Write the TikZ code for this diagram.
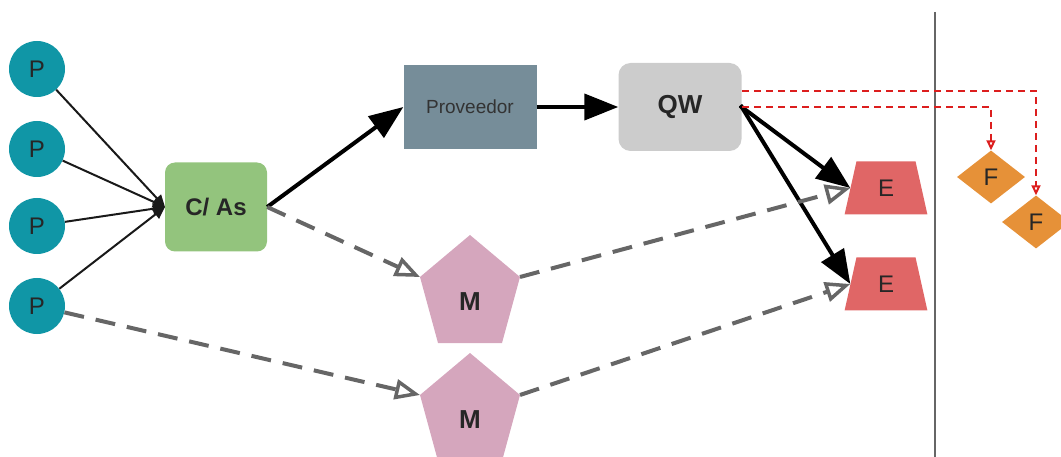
\documentclass[tikz,border=0pt]{standalone}
\usepackage{fontspec}
\setmainfont{Liberation Sans}
\usetikzlibrary{arrows.meta,shapes.geometric}
\definecolor{pteal}{RGB}{16,150,166}
\definecolor{cgreen}{RGB}{147,196,125}
\definecolor{pblue}{RGB}{118,141,153}
\definecolor{qgray}{RGB}{204,204,204}
\definecolor{ered}{RGB}{224,102,102}
\definecolor{forange}{RGB}{230,145,56}
\definecolor{mpink}{RGB}{213,166,189}
\definecolor{dgray}{RGB}{102,102,102}
\definecolor{rdash}{RGB}{220,30,30}
\tikzset{
  pnode/.style={circle,fill=pteal,minimum size=56pt,inner sep=0pt,text=black!85,font=\fontsize{24}{28}\selectfont},
  thin arrow/.style={line width=2pt,black!90,-{Triangle[length=12pt,width=11pt]}},
  thick arrow/.style={line width=4pt,-{Triangle[length=34pt,width=26pt]}},
  dash arrow/.style={line width=4pt,dgray,dash pattern=on 20pt off 12pt,-{Triangle[open,length=25pt,width=20pt,line width=3.5pt]}},
  red arrow/.style={line width=2pt,rdash,dash pattern=on 7pt off 5pt,-{Triangle[open,length=10pt,width=9pt,line width=2pt]}},
  etrap/.style={trapezium,trapezium stretches=true,fill=ered,minimum width=83pt,minimum height=53pt,trapezium left angle=79,trapezium right angle=79,inner sep=0pt,text=black!85,font=\fontsize{24}{28}\selectfont},
  fdiam/.style={diamond,fill=forange,minimum width=68pt,minimum height=53pt,inner sep=0pt,text=black!85,font=\fontsize{24}{28}\selectfont},
  mlabel/.style={text=black!85,font=\bfseries\fontsize{26}{30}\selectfont},
}
\begin{document}
\begin{tikzpicture}[x=1pt,y=-1pt]
\useasboundingbox (0,0) rectangle (1061,457);
% P nodes
\node[pnode] (p1) at (37,69) {P};
\node[pnode] (p2) at (37,149) {P};
\node[pnode] (p3) at (37,226) {P};
\node[pnode] (p4) at (37,306) {P};
% C/As
\node[rounded corners=10pt,fill=cgreen,minimum width=102pt,minimum height=89pt,text=black!85,font=\bfseries\fontsize{24}{28}\selectfont] (cas) at (216,207) {C/ As};
% Proveedor
\node[fill=pblue,minimum width=133pt,minimum height=84pt,font=\fontsize{19}{22}\selectfont,text=black!80] (prov) at (470,107) {Proveedor};
% QW
\node[rounded corners=12pt,fill=qgray,minimum width=123pt,minimum height=88pt,text=black!85,font=\bfseries\fontsize{26}{30}\selectfont] (qw) at (680,107) {QW};
% E nodes
\node[etrap] (e1) at (886,188) {E};
\node[etrap] (e2) at (886,284) {E};
% F nodes
\node[fdiam] (f1) at (991,177) {F};
\node[fdiam] (f2) at (1036,222) {F};
% M pentagons
\fill[mpink] (470,235) coordinate (m1t) -- (420,277) coordinate (m1l) -- (438,343) -- (502,343) -- (520,277) coordinate (m1r) -- cycle;
\node[mlabel] (m1) at (470,302) {M};
\fill[mpink] (470,353) coordinate (m2t) -- (420,395) coordinate (m2l) -- (438,461) -- (502,461) -- (520,395) coordinate (m2r) -- cycle;
\node[mlabel] (m2) at (470,420) {M};
% vertical divider
\coordinate (vtop) at (935,12);
\coordinate (vbot) at (935,457);
\draw[line width=2pt,black!60] (vtop) -- (vbot);
% connectors
\coordinate (casin) at (165,207);
\draw[thin arrow] (p1) -- (casin);
\draw[thin arrow] (p2) -- (casin);
\draw[thin arrow] (p3) -- (casin);
\draw[thin arrow] (p4) -- (casin);
\draw[thick arrow] (cas.east) -- (prov.west);
\draw[thick arrow] (prov.east) -- (qw.west);
\draw[thick arrow,shorten <=-2pt] (qw.east) -- (e1.west);
\draw[thick arrow,shorten <=-2pt] (qw.east) -- (e2.west);
\draw[dash arrow] (cas.east) -- (m1l);
\draw[dash arrow] (p4) -- (m2l);
\draw[dash arrow] (m1r) -- (e1.west);
\draw[dash arrow] (m2r) -- (e2.west);
\coordinate (qwr1) at (742,107);
\coordinate (qwr2) at (742,91);
\draw[red arrow] (qwr1) -| (f1.north);
\draw[red arrow] (qwr2) -| (f2.north);
\end{tikzpicture}
\end{document}
